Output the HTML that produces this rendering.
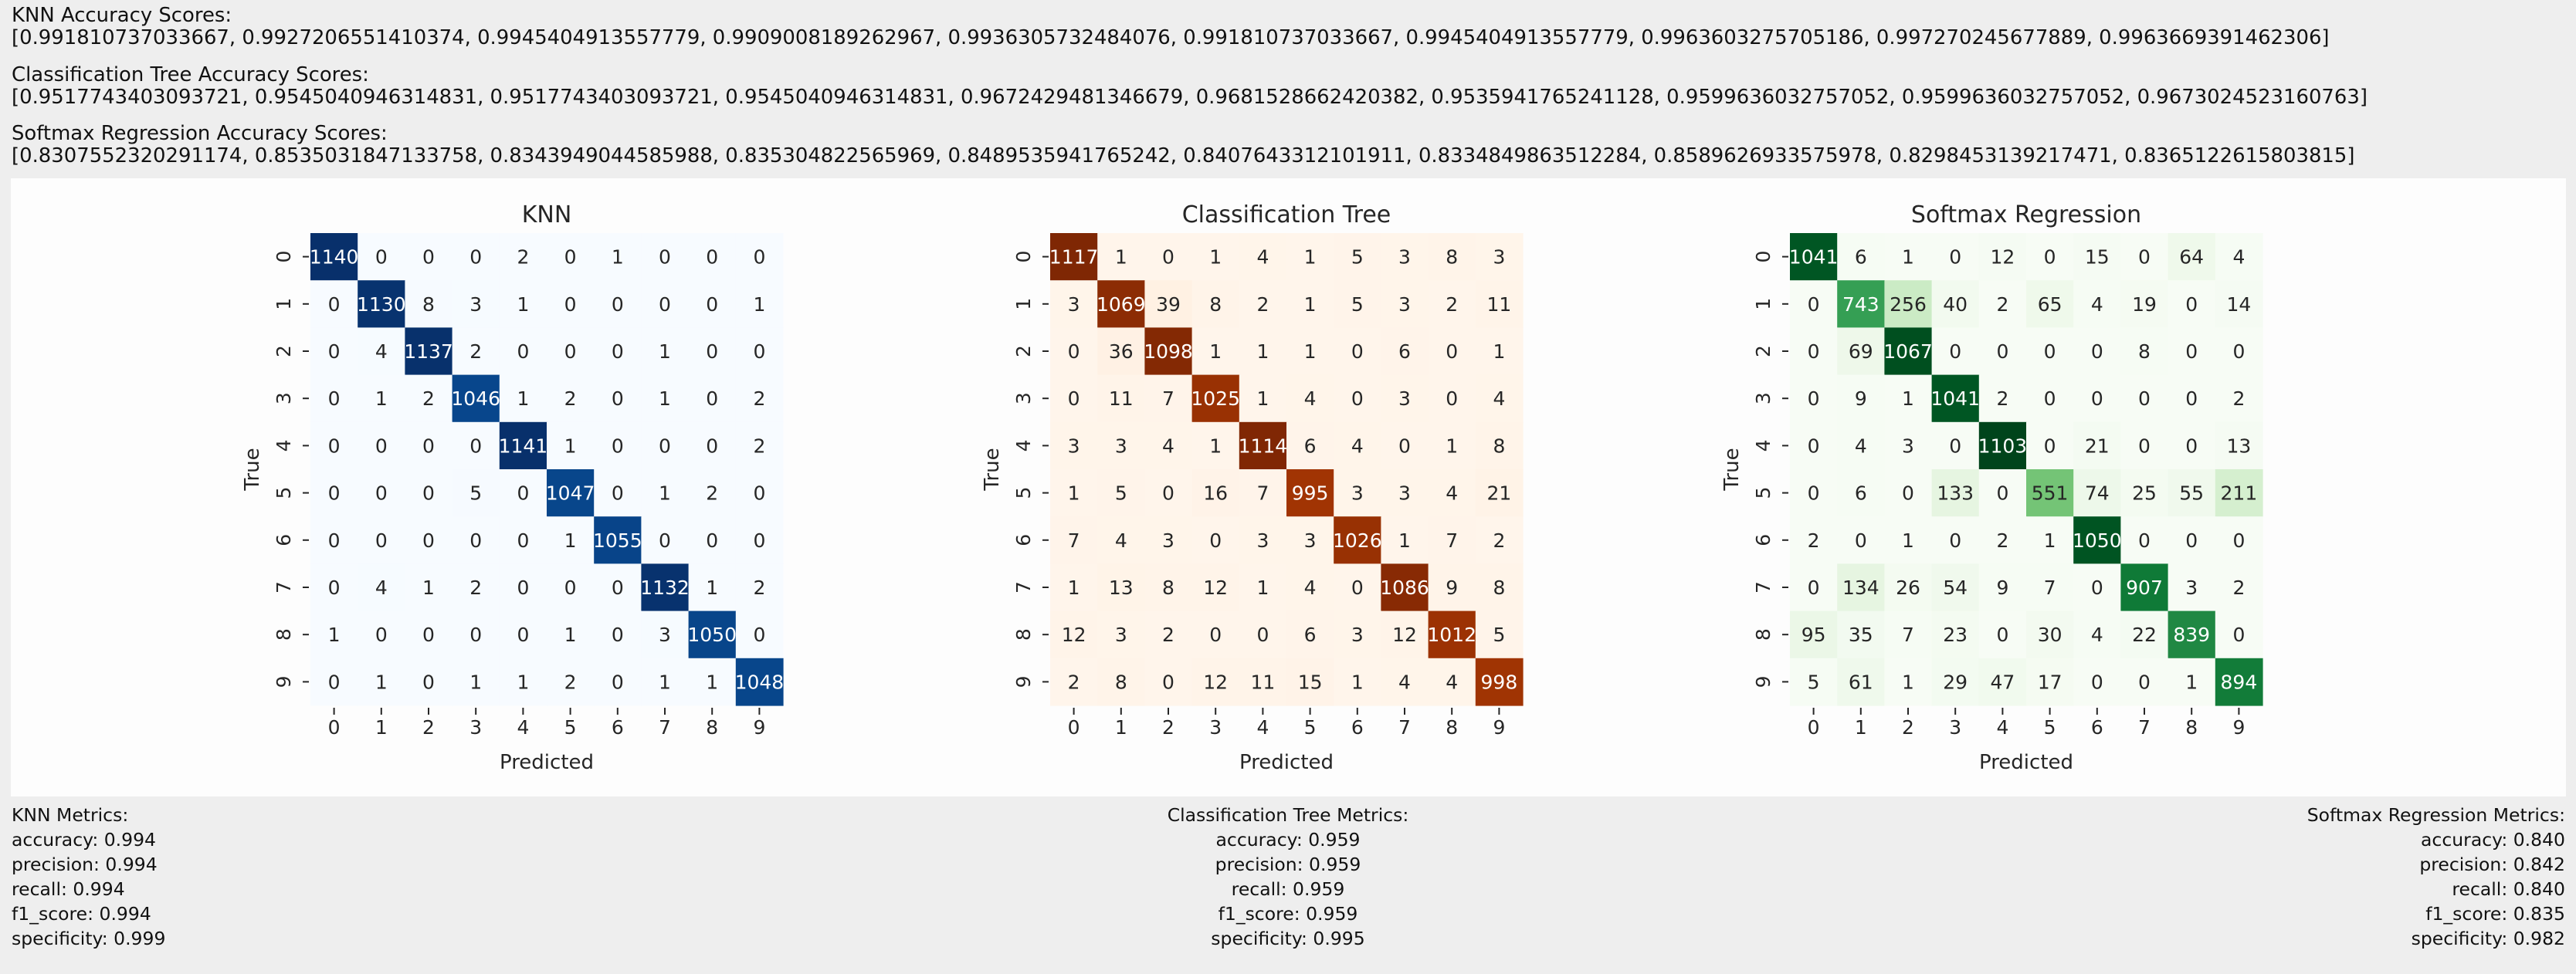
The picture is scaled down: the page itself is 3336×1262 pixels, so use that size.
<!DOCTYPE html>
<html><head><meta charset="utf-8">
<style>
html,body{margin:0;padding:0;width:3336px;height:1262px;background:#eeeeee;overflow:hidden;font-family:"DejaVu Sans","Liberation Sans",sans-serif;color:#111;}
.t{position:absolute;left:15px;font-size:25.9px;white-space:nowrap;line-height:28px;}
.m{position:absolute;top:1040px;font-size:23.5px;line-height:32px;white-space:pre;}
#fig{position:absolute;left:14px;top:231px;width:3309px;height:801px;background:#fdfdfd;}
</style></head><body>
<div class="t" style="top:6px">KNN Accuracy Scores:</div>
<div class="t" style="top:35px">[0.991810737033667, 0.9927206551410374, 0.9945404913557779, 0.9909008189262967, 0.9936305732484076, 0.991810737033667, 0.9945404913557779, 0.9963603275705186, 0.997270245677889, 0.9963669391462306]</div>
<div class="t" style="top:83px">Classification Tree Accuracy Scores:</div>
<div class="t" style="top:112px">[0.9517743403093721, 0.9545040946314831, 0.9517743403093721, 0.9545040946314831, 0.9672429481346679, 0.9681528662420382, 0.9535941765241128, 0.9599636032757052, 0.9599636032757052, 0.9673024523160763]</div>
<div class="t" style="top:159px">Softmax Regression Accuracy Scores:</div>
<div class="t" style="top:188px">[0.8307552320291174, 0.8535031847133758, 0.8343949044585988, 0.835304822565969, 0.8489535941765242, 0.8407643312101911, 0.8334849863512284, 0.8589626933575978, 0.8298453139217471, 0.8365122615803815]</div>

<div id="fig">
<svg id="svg" width="3309" height="801" xmlns="http://www.w3.org/2000/svg" font-family="DejaVu Sans, Liberation Sans, sans-serif"></svg>
</div>

<div class="m" style="left:15px;text-align:left">KNN Metrics:
accuracy: 0.994
precision: 0.994
recall: 0.994
f1_score: 0.994
specificity: 0.999</div>
<div class="m" style="left:1368px;width:600px;text-align:center">Classification Tree Metrics:
accuracy: 0.959
precision: 0.959
recall: 0.959
f1_score: 0.959
specificity: 0.995</div>
<div class="m" style="right:14px;text-align:right">Softmax Regression Metrics:
accuracy: 0.840
precision: 0.842
recall: 0.840
f1_score: 0.835
specificity: 0.982</div>

<script>
const classLabels = ['0','1','2','3','4','5','6','7','8','9'];
const knnMatrix = [
[1140,0,0,0,2,0,1,0,0,0],
[0,1130,8,3,1,0,0,0,0,1],
[0,4,1137,2,0,0,0,1,0,0],
[0,1,2,1046,1,2,0,1,0,2],
[0,0,0,0,1141,1,0,0,0,2],
[0,0,0,5,0,1047,0,1,2,0],
[0,0,0,0,0,1,1055,0,0,0],
[0,4,1,2,0,0,0,1132,1,2],
[1,0,0,0,0,1,0,3,1050,0],
[0,1,0,1,1,2,0,1,1,1048]];
const treeMatrix = [
[1117,1,0,1,4,1,5,3,8,3],
[3,1069,39,8,2,1,5,3,2,11],
[0,36,1098,1,1,1,0,6,0,1],
[0,11,7,1025,1,4,0,3,0,4],
[3,3,4,1,1114,6,4,0,1,8],
[1,5,0,16,7,995,3,3,4,21],
[7,4,3,0,3,3,1026,1,7,2],
[1,13,8,12,1,4,0,1086,9,8],
[12,3,2,0,0,6,3,12,1012,5],
[2,8,0,12,11,15,1,4,4,998]];
const softmaxMatrix = [
[1041,6,1,0,12,0,15,0,64,4],
[0,743,256,40,2,65,4,19,0,14],
[0,69,1067,0,0,0,0,8,0,0],
[0,9,1,1041,2,0,0,0,0,2],
[0,4,3,0,1103,0,21,0,0,13],
[0,6,0,133,0,551,74,25,55,211],
[2,0,1,0,2,1,1050,0,0,0],
[0,134,26,54,9,7,0,907,3,2],
[95,35,7,23,0,30,4,22,839,0],
[5,61,1,29,47,17,0,0,1,894]];
const panelTitles = ['KNN','Classification Tree','Softmax Regression'];

const cmaps = {
 blues:['#f7fbff','#deebf7','#c6dbef','#9ecae1','#6baed6','#4292c6','#2171b5','#08519c','#08306b'],
 oranges:['#fff5eb','#fee6ce','#fdd0a2','#fdae6b','#fd8d3c','#f16913','#d94801','#a63603','#7f2704'],
 greens:['#f7fcf5','#e5f5e0','#c7e9c0','#a1d99b','#74c476','#41ab5d','#238b45','#006d2c','#00441b']
};
function hex(h){return [1,3,5].map(i=>parseInt(h.substr(i,2),16));}
function cmap(stops,t){
  t=Math.max(0,Math.min(1,t));const p=t*(stops.length-1);const i=Math.min(Math.floor(p),stops.length-2);const f=p-i;
  const a=hex(stops[i]),b=hex(stops[i+1]);return a.map((v,k)=>Math.round(v+(b[k]-v)*f));
}
function lum(c){const l=c.map(v=>{v/=255;return v<=0.03928?v/12.92:Math.pow((v+0.055)/1.055,2.4);});return 0.2126*l[0]+0.7152*l[1]+0.0722*l[2];}

const svg=document.getElementById('svg');
const NS='http://www.w3.org/2000/svg';
function mk(tag,attrs,parent){const e=document.createElementNS(NS,tag);for(const k in attrs)e.setAttribute(k,attrs[k]);(parent||svg).appendChild(e);return e;}

const ox=-14, oy=-231;
const panelLeft=[402,1360,2318];
const topY=302, size=612;
const mats=[knnMatrix,treeMatrix,softmaxMatrix];
const cms=[cmaps.blues,cmaps.oranges,cmaps.greens];
const names=['knn','tree','softmax'];

mats.forEach((M,p)=>{
  const g=mk('g',{transform:`translate(${panelLeft[p]+ox},${topY+oy})`});
  
  
  const n=classLabels.length, cs=size/n;
  const xs=i=>i*cs, ys=i=>i*cs;
  let vmax=0,vmin=Infinity;M.forEach(r=>r.forEach(v=>{vmax=Math.max(vmax,v);vmin=Math.min(vmin,v);}));
  M.forEach((row,r)=>row.forEach((v,c)=>{
    const col=cmap(cms[p],(v-vmin)/(vmax-vmin));
    const rect=mk('rect',{x:xs(c),y:ys(r),width:cs+0.6,height:cs+0.6,fill:`rgb(${col})`},g);
    
    
    const t=mk('text',{x:xs(c)+cs/2,y:ys(r)+cs/2+9,'text-anchor':'middle','font-size':25,fill:lum(col)>0.408?'#262626':'#ffffff'},g);
    t.textContent=v;
    
    
  }));
  classLabels.forEach((lab,i)=>{
    mk('line',{x1:xs(i)+cs/2,x2:xs(i)+cs/2,y1:size+3,y2:size+12,stroke:'#262626','stroke-width':2},g);
    const tx=mk('text',{x:xs(i)+cs/2,y:size+37,'text-anchor':'middle','font-size':25,fill:'#262626'},g);
    tx.textContent=lab;
    
    
    mk('line',{x1:-10,x2:-2,y1:ys(i)+cs/2,y2:ys(i)+cs/2,stroke:'#262626','stroke-width':2},g);
    const ty=mk('text',{x:0,y:0,transform:`translate(-26,${ys(i)+cs/2}) rotate(-90)`,'text-anchor':'middle','font-size':25,fill:'#262626'},g);
    ty.textContent=lab;
    
    
  });
  const title=mk('text',{x:size/2,y:-14,'text-anchor':'middle','font-size':30,fill:'#262626'},g);
  title.textContent=panelTitles[p];
  
  
  const xl=mk('text',{x:size/2,y:size+82,'text-anchor':'middle','font-size':26,fill:'#262626'},g);
  xl.textContent='Predicted';
  
  
  const yl=mk('text',{x:0,y:0,transform:`translate(-67,${size/2}) rotate(-90)`,'text-anchor':'middle','font-size':26,fill:'#262626'},g);
  yl.textContent='True';
  
  
});
</script>
</body></html>
